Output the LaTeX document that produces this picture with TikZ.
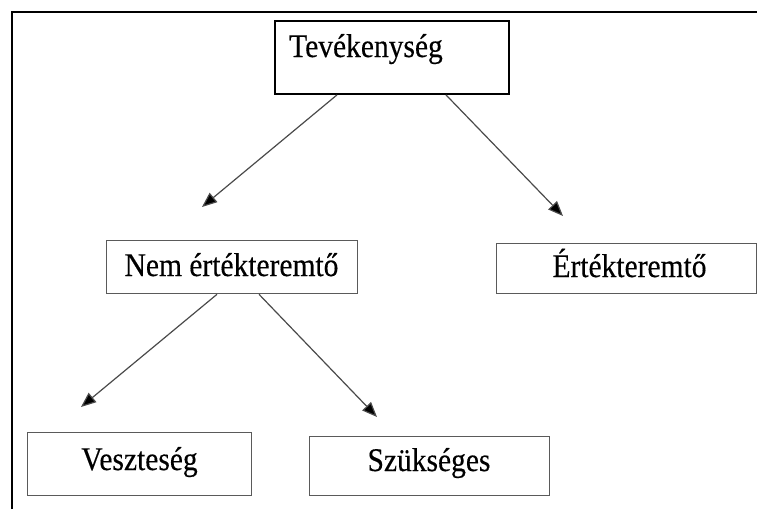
\documentclass[tikz,border=0pt]{standalone}
\usepackage{fontspec}
\usepackage{graphicx}
\setmainfont{Liberation Serif}
\newfontfamily\boxfont[FakeBold=0.35]{Liberation Serif}
\usetikzlibrary{arrows.meta}
\definecolor{linegray}{HTML}{4A4A4A}
\definecolor{boxgray}{HTML}{5A5A5A}
\newcommand{\tallword}[1]{\scalebox{1}[1.12]{#1}}
\begin{document}
\begin{tikzpicture}[x=1pt,y=-1pt,
  frameline/.style={draw=black,line width=2.2pt},
  topbox/.style={draw=black,line width=1.9pt,inner sep=0pt,anchor=north west},
  box/.style={draw=boxgray,line width=1.3pt,inner sep=0pt,anchor=north west},
  label/.style={inner sep=0pt,anchor=base,font=\boxfont\fontsize{29.5}{34}\selectfont},
  arr/.style={draw=linegray,line width=1.2pt,-{Triangle[length=15pt,width=12pt,fill=black]}}
]
\useasboundingbox (0,0) rectangle (757,509);

% outer frame (runs off the right and bottom edges)
\draw[frameline] (12,509) -- (12,12) -- (757,12);

% boxes
\node[topbox,minimum width=234pt,minimum height=73pt] (tev) at (274,20) {};
\node[box,minimum width=251pt,minimum height=53pt] (nem) at (106,240) {};
\node[box,minimum width=260pt,minimum height=50pt] (ert) at (496,243) {};
\node[box,minimum width=224pt,minimum height=63pt] (vesz) at (27,432) {};
\node[box,minimum width=240pt,minimum height=59pt] (szuk) at (309,436) {};

% texts
\node[label,anchor=base west] (tevt) at (289,57) {\tallword{Tevékenység}};
\node[label] (nemt) at (231.5,276) {\tallword{Nem értékteremtő}};
\node[label] (ertt) at (629.5,277) {\tallword{Értékteremtő}};
\node[label] (veszt) at (139.5,470) {\tallword{Veszteség}};
\node[label] (szukt) at (429,471) {\tallword{Szükséges}};

% arrow end points
\coordinate (a1) at (202,207);
\coordinate (a2) at (563,216);
\coordinate (a3) at (81,407);
\coordinate (a4) at (377,417);

% connectors
\draw[arr] (tev.south west) ++(63,0) -- (a1);
\draw[arr] (tev.south west) ++(172,0) -- (a2);
\draw[arr] (nem.south west) ++(111,0) -- (a3);
\draw[arr] (nem.south west) ++(153,0) -- (a4);
\end{tikzpicture}
\end{document}
